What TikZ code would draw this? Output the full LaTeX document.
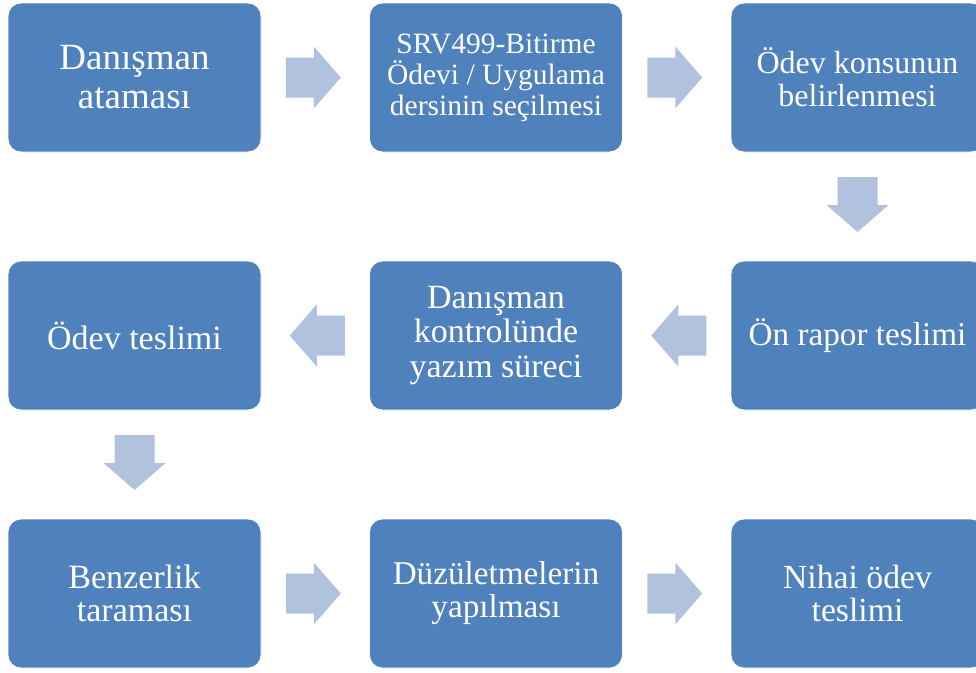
\documentclass[tikz,border=0pt]{standalone}
\usepackage{fontspec}
\setmainfont{Liberation Serif}
\definecolor{boxblue}{RGB}{79,129,189}
\definecolor{arrowblue}{RGB}{176,194,222}
\newcommand\fsz[2]{\fontsize{#1}{#2}\selectfont}
\begin{document}
\begin{tikzpicture}[x=1pt,y=-1pt,
  stepbox/.style={rectangle, rounded corners=13pt, fill=boxblue, draw=white,
    line width=0.8pt, minimum width=253pt, minimum height=149pt,
    inner sep=0pt, text=white, align=center},
  blockarrow/.pic={\fill[arrowblue] (-29.5,-20) -- (-1.5,-20) -- (-1.5,-31)
    -- (25.5,0) -- (-1.5,31) -- (-1.5,20) -- (-29.5,20) -- cycle;}]
\useasboundingbox (0,0) rectangle (976,672);
\clip (0,0) rectangle (976,672);
% row 1
\node[stepbox, font=\fsz{37}{39}] (b1) at (134.5,77.5) {Danışman\\ataması};
\node[stepbox, font=\fsz{29.5}{31}] (b2) at (496,77.5) {SRV499-Bitirme\\Ödevi / Uygulama\\dersinin seçilmesi};
\node[stepbox, font=\fsz{32}{33}] (b3) at (857.5,77.5) {Ödev konsunun\\belirlenmesi};
% row 2
\node[stepbox, font=\fsz{34}{34.5}] (b4) at (134.5,335.5) {Ödev teslimi};
\node[stepbox, font=\fsz{34}{34.5}] (b5) at (496,335.5) {Danışman\\kontrolünde\\yazım süreci};
\node[stepbox, font=\fsz{33.2}{34}] (b6) at (857.5,335.5) {Ön rapor teslimi};
% row 3
\node[stepbox, font=\fsz{34}{33}] (b7) at (134.5,593.5) {Benzerlik\\taraması};
\node[stepbox, font=\fsz{33.2}{33}] (b8) at (496,593.5) {Düzületmelerin\\yapılması};
\node[stepbox, font=\fsz{33.7}{33}] (b9) at (857.5,593.5) {Nihai ödev\\teslimi};
% arrow positions
\path (b1.east) -- (b2.west) coordinate[midway] (a12);
\path (b2.east) -- (b3.west) coordinate[midway] (a23);
\path (b3.south) -- (b6.north) coordinate[midway] (a36);
\path (b6.west) -- (b5.east) coordinate[midway] (a65);
\path (b5.west) -- (b4.east) coordinate[midway] (a54);
\path (b4.south) -- (b7.north) coordinate[midway] (a47);
\path (b7.east) -- (b8.west) coordinate[midway] (a78);
\path (b8.east) -- (b9.west) coordinate[midway] (a89);
% arrows
\pic at (a12) {blockarrow};
\pic at (a23) {blockarrow};
\pic[rotate=-90] at (a36) {blockarrow};
\pic[rotate=180] at (a65) {blockarrow};
\pic[rotate=180] at (a54) {blockarrow};
\pic[rotate=-90] at (a47) {blockarrow};
\pic at (a78) {blockarrow};
\pic at (a89) {blockarrow};
\end{tikzpicture}
\end{document}
